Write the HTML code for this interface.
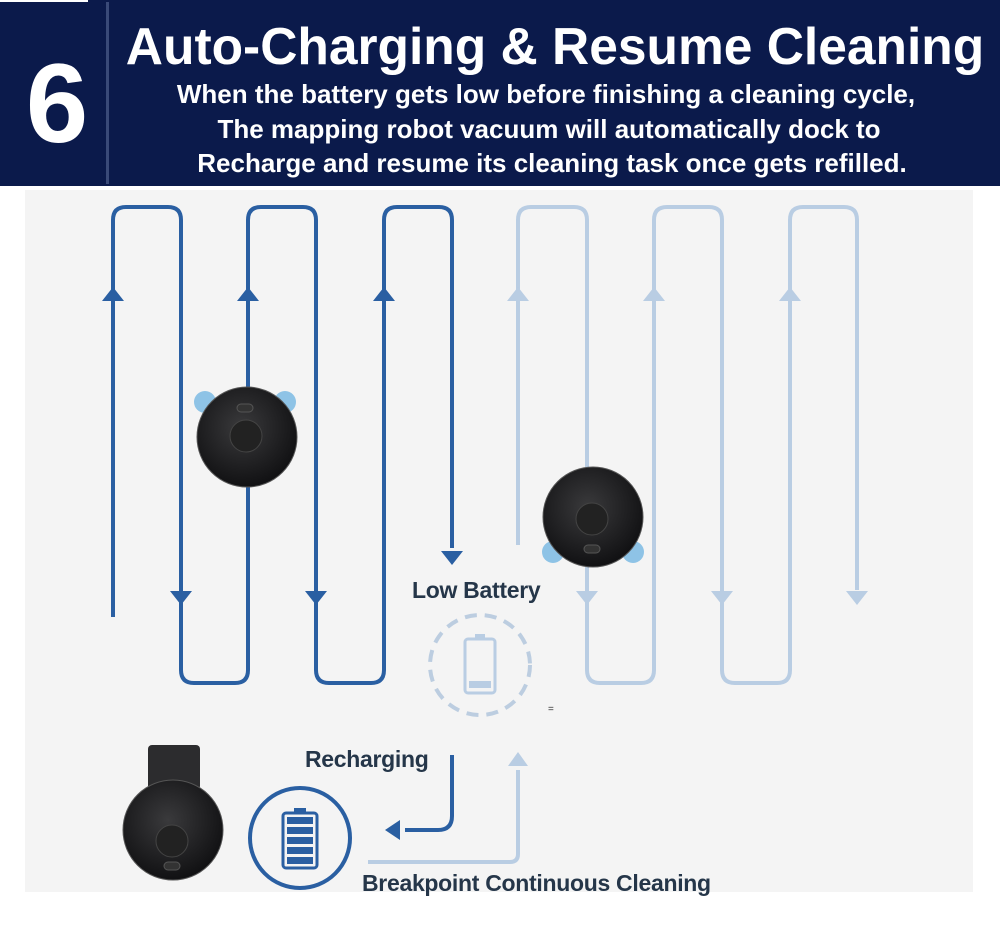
<!DOCTYPE html>
<html><head><meta charset="utf-8"><style>
html,body{margin:0;padding:0;background:#fff;}
body{width:1000px;height:951px;position:relative;overflow:hidden;font-family:"Liberation Sans",Arial,sans-serif;}
</style></head><body>
<svg width="1000" height="951" viewBox="0 0 1000 951" xmlns="http://www.w3.org/2000/svg" style="position:absolute;left:0;top:0">
<defs>
<radialGradient id="rb" cx="0.45" cy="0.4" r="0.6"><stop offset="0" stop-color="#3a3a3c"/><stop offset="1" stop-color="#111113"/></radialGradient>
</defs>
<rect x="0" y="0" width="1000" height="186" fill="#0b1a4b"/>
<rect x="0" y="0" width="88" height="2" fill="#fff"/>
<rect x="106" y="2" width="3" height="182" fill="#3a4a78"/>
<text x="57" y="142" font-size="112" font-weight="bold" fill="#fff" text-anchor="middle">6</text>
<text x="555" y="64" font-size="51.5" font-weight="bold" fill="#fff" text-anchor="middle">Auto-Charging &amp; Resume Cleaning</text>
<text x="546" y="103" font-size="26" font-weight="bold" fill="#fff" text-anchor="middle">When the battery gets low before finishing a cleaning cycle,</text>
<text x="549" y="138" font-size="26" font-weight="bold" fill="#fff" text-anchor="middle">The mapping robot vacuum will automatically dock to</text>
<text x="552" y="172" font-size="26" font-weight="bold" fill="#fff" text-anchor="middle">Recharge and resume its cleaning task once gets refilled.</text>

<rect x="25" y="190" width="948" height="702" fill="#f4f4f4"/>

<g fill="none" stroke="#2a5fa2" stroke-width="4" stroke-linejoin="round">
<path d="M113 617 V220 Q113 207 126 207 H168 Q181 207 181 220 V670 Q181 683 194 683 H235 Q248 683 248 670 V220 Q248 207 261 207 H303 Q316 207 316 220 V670 Q316 683 329 683 H371 Q384 683 384 670 V220 Q384 207 397 207 H439 Q452 207 452 220 V548"/>
<path d="M452 755 V816 Q452 830 438 830 H405"/>
</g>
<g fill="none" stroke="#b9cde3" stroke-width="4" stroke-linejoin="round">
<path d="M518 545 V220 Q518 207 531 207 H574 Q587 207 587 220 V670 Q587 683 600 683 H641 Q654 683 654 670 V220 Q654 207 667 207 H709 Q722 207 722 220 V670 Q722 683 735 683 H777 Q790 683 790 670 V220 Q790 207 803 207 H844 Q857 207 857 220 V590"/>
<path d="M368 862 H510 Q518 862 518 854 V770"/>
</g>
<g fill="#2a5fa2">
<path d="M102 301 L113 287 L124 301Z"/><path d="M237 301 L248 287 L259 301Z"/><path d="M373 301 L384 287 L395 301Z"/>
<path d="M170 591 L181 605 L192 591Z"/><path d="M305 591 L316 605 L327 591Z"/><path d="M441 551 L452 565 L463 551Z"/>
<path d="M385 830 L400 820 L400 840Z"/>
</g>
<g fill="#b9cde3">
<path d="M507 301 L518 287 L529 301Z"/><path d="M643 301 L654 287 L665 301Z"/><path d="M779 301 L790 287 L801 301Z"/>
<path d="M576 591 L587 605 L598 591Z"/><path d="M711 591 L722 605 L733 591Z"/><path d="M846 591 L857 605 L868 591Z"/>
<path d="M508 766 L518 752 L528 766Z"/>
</g>
<circle cx="205" cy="402" r="11" fill="#8ec3e6"/><circle cx="285" cy="402" r="11" fill="#8ec3e6"/>
<circle cx="247" cy="437" r="50" fill="url(#rb)" stroke="#555" stroke-width="1"/>
<circle cx="246" cy="436" r="16" fill="#222" stroke="#444"/>
<rect x="237" y="404" width="16" height="8" rx="4" fill="#333" stroke="#555"/>
<circle cx="553" cy="552" r="11" fill="#8ec3e6"/><circle cx="633" cy="552" r="11" fill="#8ec3e6"/>
<circle cx="593" cy="517" r="50" fill="url(#rb)" stroke="#555" stroke-width="1"/>
<circle cx="592" cy="519" r="16" fill="#222" stroke="#444"/>
<rect x="584" y="545" width="16" height="8" rx="4" fill="#333" stroke="#555"/>
<rect x="148" y="745" width="52" height="45" rx="4" fill="#2c2c2e"/>
<circle cx="173" cy="830" r="50" fill="url(#rb)" stroke="#555" stroke-width="1"/>
<circle cx="172" cy="841" r="16" fill="#222" stroke="#444"/>
<rect x="164" y="862" width="16" height="8" rx="4" fill="#333" stroke="#555"/>
<circle cx="480" cy="665" r="50" fill="none" stroke="#bccde0" stroke-width="4" stroke-dasharray="12 8"/>
<rect x="465" y="639" width="30" height="54" rx="3" fill="none" stroke="#b9cde3" stroke-width="3"/>
<rect x="475" y="634" width="10" height="5" fill="#b9cde3"/>
<rect x="469" y="681" width="22" height="7" fill="#b9cde3"/>
<text x="548" y="712" font-size="10" fill="#333">=</text>
<circle cx="300" cy="838" r="50" fill="none" stroke="#2a5fa2" stroke-width="4"/>
<rect x="283" y="813" width="34" height="55" rx="3" fill="none" stroke="#2a5fa2" stroke-width="3"/>
<rect x="294" y="808" width="12" height="5" fill="#2a5fa2"/>
<g fill="#2a5fa2"><rect x="287" y="817" width="26" height="7"/><rect x="287" y="827" width="26" height="7"/><rect x="287" y="837" width="26" height="7"/><rect x="287" y="847" width="26" height="7"/><rect x="287" y="857" width="26" height="7"/></g>
<g font-weight="bold" fill="#253649" letter-spacing="-0.3">
<text x="412" y="598" font-size="23">Low Battery</text>
<text x="305" y="767" font-size="23">Recharging</text>
<text x="362" y="891" font-size="23">Breakpoint Continuous Cleaning</text>
</g>
</svg>
</body></html>
